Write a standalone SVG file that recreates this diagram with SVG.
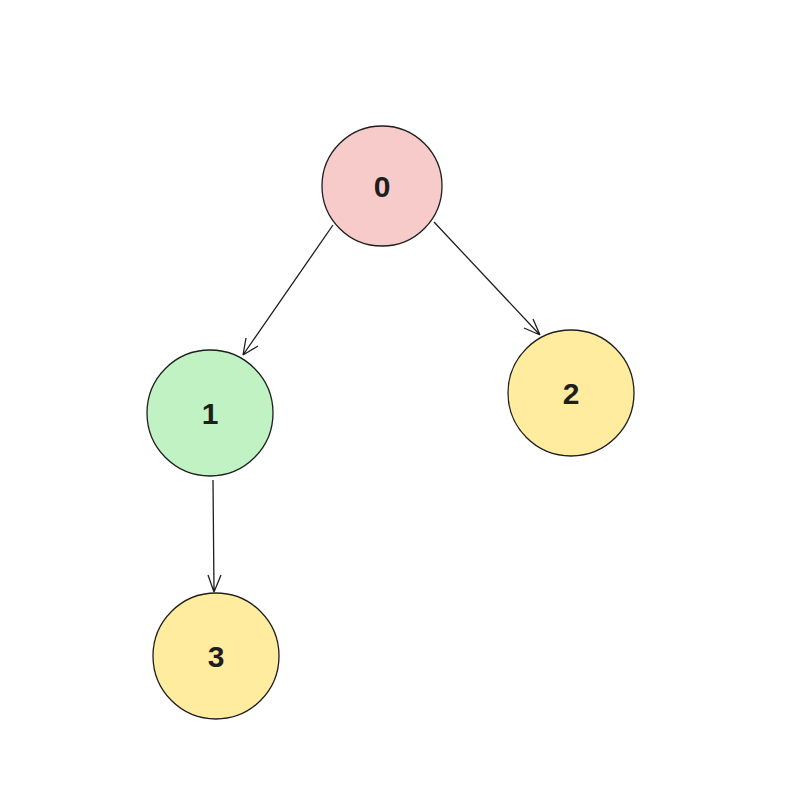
<svg xmlns="http://www.w3.org/2000/svg" width="792" height="798" viewBox="0 0 792 798">
<style>
.n{stroke:#1e1e1e;stroke-width:1.3}
.t{font-family:"Liberation Sans",sans-serif;font-size:30px;font-weight:bold;fill:#1e1e1e;text-anchor:middle;dominant-baseline:central}
.e{stroke:#1e1e1e;stroke-width:1.3;fill:none}
</style>
<rect width="792" height="798" fill="#fff"/>
<g id="connectors">
<path class="e" d="M333 225 L243 355 M243 355 L246 338 M243 355 L258 346"/>
<path class="e" d="M434 222 L540 335 M540 335 L533 319 M540 335 L524 328"/>
<path class="e" d="M213 480 L214 592 M214 592 L208 575 M214 592 L221 575"/>
</g>
<g id="node0"><circle class="n" cx="382" cy="186" r="60" fill="#f8cbcb"/><text class="t" x="382" y="186">0</text></g>
<g id="node1"><circle class="n" cx="210" cy="413" r="63" fill="#c0f2c4"/><text class="t" x="210" y="413">1</text></g>
<g id="node2"><circle class="n" cx="571" cy="393" r="63" fill="#ffec9f"/><text class="t" x="571" y="393">2</text></g>
<g id="node3"><circle class="n" cx="216" cy="656" r="63" fill="#ffec9f"/><text class="t" x="216" y="656">3</text></g>
</svg>
